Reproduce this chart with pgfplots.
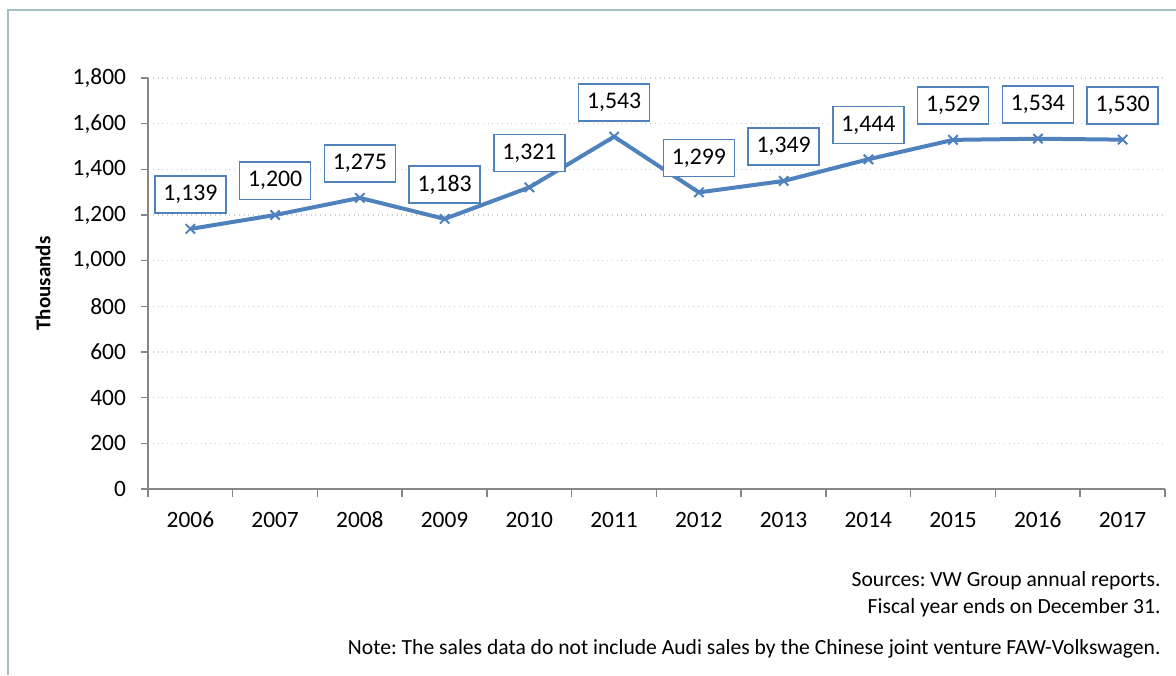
\documentclass[border=0pt]{standalone}
\usepackage{pgfplots}
\pgfplotsset{compat=1.18}
\usepackage{fontspec}
\setmainfont{Carlito}
\frenchspacing
\definecolor{series}{RGB}{79,129,189}
\definecolor{axisgray}{RGB}{134,134,134}
\definecolor{gridgray}{RGB}{205,205,205}
\definecolor{framegray}{RGB}{165,190,195}

\begin{document}
\begin{tikzpicture}[x=1bp,y=1bp]
\useasboundingbox (0,0) rectangle (588,337.5);
% outer chart frame (only left and top show)
\draw[framegray, line width=0.75bp] (4,0) -- (4,332.5) -- (588,332.5);
\begin{axis}[
  at={(74bp,93bp)}, anchor=south west,
  scale only axis, width=508.5bp, height=205.5bp,
  xmin=2005.5, xmax=2017.5, ymin=0, ymax=1800,
  axis lines*=left,
  axis line style={axisgray, line width=0.75bp},
  tick align=outside,
  tick style={axisgray, line width=0.75bp},
  xtick={2006,...,2017},
  xticklabels={2006,2007,2008,2009,2010,2011,2012,2013,2014,2015,2016,2017},
  major x tick style={draw=none},
  minor xtick={2005.5,2006.5,...,2017.5},
  minor tick length=4bp,
  major tick length=3.5bp,
  ytick={0,200,...,1800},
  ymajorgrids,
  grid style={gridgray, dotted, line width=0.75bp},
  /pgf/number format/assume math mode=true,
  /pgf/number format/1000 sep={,},
  tick label style={font=\fontsize{11.7bp}{14bp}\selectfont, black},
  x tick label style={anchor=north, text height=8bp, text depth=0bp, inner sep=0pt, yshift=-7.5bp},
  y tick label style={xshift=-4bp},
  ylabel={Thousands},
  ylabel style={font=\fontsize{10.5bp}{12bp}\selectfont\bfseries, at={(axis description cs:-0.1032,0.5)}, anchor=center},
  clip=false,
]
\addplot[series, line width=2bp, mark=x, mark size=3.3bp,
  mark options={line width=1bp, solid},
  point meta=y,
  nodes near coords={\pgfmathprintnumber[fixed,precision=0,1000 sep={,}]{\pgfplotspointmeta}},
  every node near coord/.style={draw=series, fill=white, line width=0.75bp, text=black,
    font=\fontsize{11.9bp}{14bp}\selectfont, inner sep=0pt,
    minimum width=35.5bp, minimum height=18.5bp, anchor=south, yshift=7.5bp},
] coordinates {
(2006,1139)
(2007,1200)
(2008,1275)
(2009,1183)
(2010,1321)
(2011,1543)
(2012,1299)
(2013,1349)
(2014,1444)
(2015,1529)
(2016,1534)
(2017,1530)
};
\end{axis}
\begin{scope}[font=\fontsize{10.8bp}{12bp}\selectfont]
\node[anchor=base east, inner sep=0pt] at (580.5,44.2) {Sources: VW Group annual reports.};
\node[anchor=base east, inner sep=0pt] at (580.5,30.7) {Fiscal year ends on December 31.};
\node[anchor=base east, inner sep=0pt] at (580.5,10.2) {Note: The sales data do not include Audi sales by the Chinese joint venture FAW-Volkswagen.};
\end{scope}
\end{tikzpicture}
\end{document}
